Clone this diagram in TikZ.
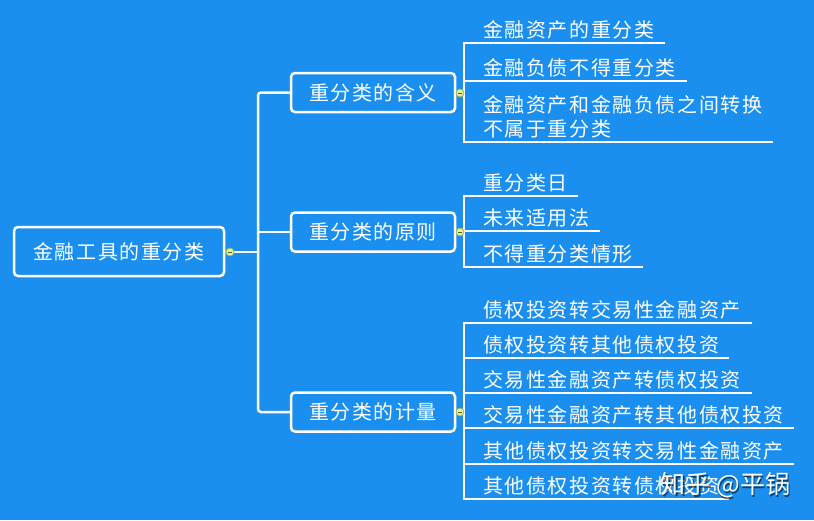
\documentclass[tikz,border=0pt]{standalone}
\usepackage{fontspec}
\usepackage{tikz}
\usetikzlibrary{calc,backgrounds}
\newfontfamily\zh[LetterSpace=8]{Noto Sans CJK SC}
\newfontfamily\zhmarca{Noto Sans CJK SC}
\definecolor{fondo}{RGB}{26,143,240}
\definecolor{nudoc}{RGB}{238,238,160}
\definecolor{nudob}{RGB}{150,186,80}
\tikzset{
  raiz/.style={draw=white, line width=2.5pt, rounded corners=4pt, fill=fondo, text=white, inner sep=0pt, minimum width=210pt, minimum height=49pt, font=\zh\fontsize{20pt}{24pt}\selectfont},
  rama/.style={draw=white, line width=2.5pt, rounded corners=4pt, fill=fondo, text=white, inner sep=0pt, minimum width=164pt, minimum height=39pt, font=\zh\fontsize{20pt}{24pt}\selectfont},
  hoja/.style={anchor=south west, inner xsep=0pt, inner ysep=2pt, text depth=3.5pt, text=white, align=left, font=\zh\fontsize{20pt}{24pt}\selectfont},
  con/.style={draw=white, line width=2.5pt},
  hcon/.style={draw=white, line width=2pt},
  nudo/.style={circle, draw=nudob, fill=nudoc, line width=0.8pt, minimum size=8pt, inner sep=0pt,
    path picture={\draw[nudob!50!black, line width=0.9pt] ($(path picture bounding box.west)+(2pt,0)$) -- ($(path picture bounding box.east)+(-2pt,0)$);}},
  marca/.style={text=white, inner sep=0pt, font=\zhmarca\fontsize{25pt}{28pt}\selectfont},
}

\begin{document}
\begin{tikzpicture}[x=1pt, y=-1pt]
  \begin{scope}[on background layer]
  \fill[fondo] (0,0) rectangle (814,520);
  \end{scope}
  \useasboundingbox (0,0) rectangle (814,520);

  \node[raiz] (raiz) at (119,251.5) {金融工具的重分类};
  \node[rama] (r1) at (373,92.5) {重分类的含义};
  \node[rama] (r2) at (373,232) {重分类的原则};
  \node[rama] (r3) at (373,412) {重分类的计量};
  \coordinate (tronco) at (258,252);

  \node[nudo] (m0) at (230,252) {};
  \node[nudo] (m1) at (460,93) {};
  \node[nudo] (m2) at (460,232) {};
  \node[nudo] (m3) at (460,412) {};

  \begin{scope}[on background layer]
  \draw[con] (raiz.east) -- (m0.west);
  \draw[con] (m0.east) -- (tronco);
  \draw[con, rounded corners=3pt] (r1.west) -| (tronco) |- (r3.west);
  \draw[con] (r2.west) -- (r2.west -| tronco);
  \end{scope}

  % el significado
  \node[hoja, text width=182pt] (h11) at (483,43) {金融资产的重分类};
  \node[hoja, text width=204pt] (h12) at (483,81) {金融负债不得重分类};
  \node[hoja, text width=290pt, text depth=, inner ysep=4pt] (h13) at (483,142) {金融资产和金融负债之间转换\\不属于重分类};
  \begin{scope}[on background layer]
  \draw[hcon] (h11.south east) -- (h11.south west -| m1.east) -- (h13.south west -| m1.east) -- (h13.south east);
  \draw[hcon] (h12.south west -| m1.east) -- (h12.south east);
  \end{scope}

  % los principios
  \node[hoja, text width=95pt] (h21) at (483,196) {重分类日};
  \node[hoja, text width=117pt] (h22) at (483,231) {未来适用法};
  \node[hoja, text width=160pt] (h23) at (483,267) {不得重分类情形};
  \begin{scope}[on background layer]
  \draw[hcon] (h21.south east) -- (h21.south west -| m2.east) -- (h23.south west -| m2.east) -- (h23.south east);
  \draw[hcon] (h22.south west -| m2.east) -- (h22.south east);
  \end{scope}

  % la medicion
  \node[hoja, text width=269pt] (h31) at (483,323) {债权投资转交易性金融资产};
  \node[hoja, text width=246pt] (h32) at (483,358) {债权投资转其他债权投资};
  \node[hoja, text width=269pt] (h33) at (483,393) {交易性金融资产转债权投资};
  \node[hoja, text width=311pt] (h34) at (483,428) {交易性金融资产转其他债权投资};
  \node[hoja, text width=311pt] (h35) at (483,464) {其他债权投资转交易性金融资产};
  \node[hoja, text width=246pt] (h36) at (483,499) {其他债权投资转债权投资};
  \begin{scope}[on background layer]
  \draw[hcon] (h31.south east) -- (h31.south west -| m3.east) -- (h36.south west -| m3.east) -- (h36.south east);
  \foreach \h in {h32,h33,h34,h35}
    \draw[hcon] (\h.south west -| m3.east) -- (\h.south east);
  \end{scope}

  \node[marca, text=black, opacity=0.55] (sombra) at (727,487) {知乎 @平锅};
  \node[marca] (marca) at (725.5,485.5) {知乎 @平锅};
\end{tikzpicture}
\end{document}
